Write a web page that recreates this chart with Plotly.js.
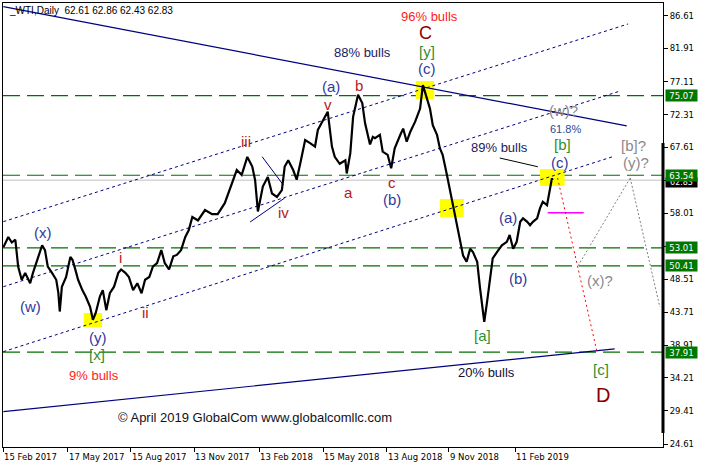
<!DOCTYPE html>
<html><head><meta charset="utf-8">
<script src="https://cdn.plot.ly/plotly-3.0.1.min.js"></script>
<style>html,body{margin:0;padding:0;background:#fff}</style>
</head><body><div id="chart" style="width:703px;height:468px"></div>
<script>
// ---- price series ----
const priceDates = ['2017-02-15','2017-02-22','2017-02-27','2017-03-04','2017-03-08','2017-03-13','2017-03-18','2017-03-25','2017-03-29','2017-04-04','2017-04-11','2017-04-15','2017-04-19','2017-04-25','2017-05-01','2017-05-04','2017-05-06','2017-05-09','2017-05-15','2017-05-21','2017-05-24','2017-05-28','2017-06-01','2017-06-07','2017-06-12','2017-06-18','2017-06-22','2017-06-26','2017-07-02','2017-07-06','2017-07-11','2017-07-16','2017-07-22','2017-07-28','2017-08-01','2017-08-07','2017-08-12','2017-08-18','2017-08-24','2017-08-30','2017-09-04','2017-09-10','2017-09-15','2017-09-21','2017-09-27','2017-10-02','2017-10-08','2017-10-14','2017-10-19','2017-10-25','2017-10-31','2017-11-05','2017-11-10','2017-11-18','2017-11-28','2017-12-08','2017-12-16','2017-12-26','2018-01-02','2018-01-12','2018-01-19','2018-01-27','2018-02-03','2018-02-07','2018-02-11','2018-02-18','2018-02-25','2018-03-03','2018-03-10','2018-03-17','2018-03-21','2018-03-26','2018-04-02','2018-04-07','2018-04-12','2018-04-19','2018-04-26','2018-05-03','2018-05-07','2018-05-14','2018-05-21','2018-05-27','2018-05-31','2018-06-07','2018-06-15','2018-06-17','2018-06-22','2018-06-26','2018-07-03','2018-07-09','2018-07-13','2018-07-20','2018-07-24','2018-07-27','2018-08-03','2018-08-07','2018-08-14','2018-08-19','2018-08-24','2018-09-01','2018-09-05','2018-09-10','2018-09-15','2018-09-22','2018-09-29','2018-10-03','2018-10-09','2018-10-13','2018-10-17','2018-10-23','2018-10-27','2018-10-31','2018-11-06','2018-11-10','2018-11-15','2018-11-20','2018-11-25','2018-11-29','2018-12-04','2018-12-09','2018-12-13','2018-12-19','2018-12-23','2018-12-27','2018-12-29','2019-01-02','2019-01-06','2019-01-10','2019-01-16','2019-01-23','2019-01-30','2019-02-03','2019-02-08','2019-02-13','2019-02-18','2019-02-22','2019-02-28','2019-03-04','2019-03-08','2019-03-14','2019-03-18','2019-03-22','2019-03-28','2019-04-01','2019-04-04','2019-04-05'];
const priceValues = [53.1,54.6,53.8,54.2,50.3,48.4,49.4,47.9,49.4,51.3,53.4,52.7,50.3,49.4,48.4,46.5,43.8,47.4,48.8,51.7,51.3,49.9,48.4,46.9,45.95,44.5,42.6,43.6,46.0,46.9,44.0,46.45,47.4,49.4,49.9,49.4,48.8,46.9,47.9,46.45,48.4,48.8,50.3,50.8,52.7,50.8,49.9,51.8,52.0,52.7,54.6,55.6,57.5,57.0,58.5,57.9,57.9,59.5,61.4,64.3,63.6,66.2,64.8,62.85,58.3,61.9,63.3,60.9,60.4,61.4,64.8,65.7,64.3,62.9,65.2,68.65,68.2,67.7,70.1,71.5,72.75,67.7,66.2,65.2,65.7,63.8,66.7,72.0,75.2,74.0,71.06,68.0,69.1,68.9,69.4,66.96,66.5,64.55,67.45,69.4,70.3,68.4,69.8,71.3,73.2,76.6,74.7,73.2,70.8,69.4,67.45,66.5,63.6,61.65,59.2,56.8,53.9,51.9,51.0,52.9,52.4,51.0,47.2,43.3,42.3,45.2,48.1,51.5,52.4,53.4,53.9,54.9,52.9,53.9,56.8,57.3,56.8,56.3,56.8,57.3,58.75,59.7,59.2,61.65,63.1,62.83];

// ---- levels, ticks ----
const levelValues = [75.07, 63.54, 53.01, 50.41, 37.91];
const lastPrice = 62.83;
const headerText = '_WTI,Daily  62.61 62.86 62.43 62.83';
const yTickVals = [86.61,81.91,77.11,72.31,67.61,62.81,58.01,53.21,48.51,43.71,38.91,34.21,29.41,24.61];
const yTickHidden = [62.81, 53.21];
const xTickDates = ['2017-02-15','2017-05-17','2017-08-15','2017-11-13','2018-02-13','2018-05-15','2018-08-13','2018-11-09','2019-02-11'];
const xTickText = ['15 Feb 2017','17 May 2017','15 Aug 2017','13 Nov 2017','13 Feb 2018','15 May 2018','13 Aug 2018','9 Nov 2018','11 Feb 2019'];

// ---- analysis lines (date, price endpoints) ----
const lineStart = [['2017-02-15',87.97],['2017-02-15',29.30],['2017-02-15',56.82],['2017-02-15',47.40],['2017-02-15',37.99],['2018-02-17',66.23],['2018-01-31',56.77],['2019-01-20',66.04],['2019-03-29',58.12],['2019-04-12',63.14],['2019-05-11',50.41],['2019-07-24',63.14]];
const lineEnd   = [['2019-07-19',70.68],['2019-07-02',38.38],['2019-07-21',85.45],['2019-07-07',75.65],['2019-06-28',66.19],['2018-03-19',62.13],['2018-03-21',60.25],['2019-03-15',64.77],['2019-05-19',58.12],['2019-06-07',37.91],['2019-07-24',63.14],['2019-09-04',44.46]];
const lineKind  = ['navy','navy','navydot','navydot','navydot','navythin','navythin','black','magenta','reddot','graydot','graydot'];

// ---- highlight boxes ----
const boxStart = [['2017-06-09',43.59],['2018-09-23',77.2],['2018-10-27',60.1],['2019-03-18',64.45]];
const boxEnd   = [['2017-07-05',41.57],['2018-10-19',74.59],['2018-11-30',57.5],['2019-04-22',61.99]];

// ---- text labels ----
const labelText = ['96% bulls','C','[y]','(c)','88% bulls','(a)','b','v','iii','iv','a','c','(b)','(x)','(w)','i','ii','(y)','[x]','9% bulls','20% bulls','© April 2019 GlobalCom www.globalcomllc.com','[a]','(b)','(a)','89% bulls','(c)','[b]','61.8%','(w)?','[b]?','(y)?','(x)?','[c]','D'];
const labelDate = ['2018-10-13','2018-10-06','2018-10-09','2018-10-09','2018-07-09','2018-05-25','2018-07-05','2018-05-22','2018-01-25','2018-03-19','2018-06-19','2018-08-20','2018-08-20','2017-04-12','2017-03-25','2017-07-31','2017-09-04','2017-06-29','2017-06-28','2017-06-24','2019-01-01','2018-02-07','2018-12-26','2019-02-15','2019-02-01','2019-01-19','2019-04-15','2019-04-19','2019-04-23','2019-04-20','2019-07-29','2019-08-01','2019-06-11','2019-06-13','2019-06-15'];
const labelPrice = [86.47,84.1,81.45,79.0,81.25,76.33,76.5,73.8,68.5,58.2,61.1,62.5,59.96,55.3,44.5,51.7,43.59,40.1,37.51,34.5,34.9,28.5,40.26,48.6,57.4,67.49,65.46,67.93,70.24,72.85,67.78,65.32,48.23,35.34,31.72];
const labelKind = ['pct','bigC','green','wave','note','wave','roman','roman','roman','roman','roman','roman','wave','wave','wave','roman','roman','wave','green','pct','note2','copy','green','wave','wave','note','wave','green','fib','alt','alt','alt','alt','green','big'];

// ---- styles ----
const lineStyles = {
  navy: {color:'#000080', width:1.2, dash:'solid'},
  navydot: {color:'#000080', width:1, dash:'3px,3px'},
  navythin: {color:'#000080', width:1, dash:'solid'},
  black: {color:'#000000', width:1, dash:'solid'},
  magenta: {color:'#ff00ff', width:1.5, dash:'solid'},
  reddot: {color:'#ff0000', width:1, dash:'2px,3px'},
  graydot: {color:'#808080', width:1, dash:'2px,2px'}
};
const labelStyles = {
  pct: {color:'#ff1a1a', size:13},
  big: {color:'#8b0000', size:20},
  bigC: {color:'#8b0000', size:18},
  green: {color:'#2f8f2f', size:15},
  wave: {color:'#2f3a9e', size:15},
  roman: {color:'#b0201c', size:15},
  note: {color:'#1a1a60', size:13},
  note2: {color:'#101030', size:13},
  copy: {color:'#101020', size:13},
  fib: {color:'#2a4a9a', size:11},
  alt: {color:'#8a8a8a', size:15}
};
const FONT = 'Liberation Sans, Arial, sans-serif';
const AXFONT = 'DejaVu Sans, Tahoma, sans-serif';

const shapes = [];
for (let i = 0; i < boxStart.length; i++) {
  shapes.push({type:'rect', xref:'x', yref:'y', layer:'below',
    x0:boxStart[i][0], y0:boxStart[i][1], x1:boxEnd[i][0], y1:boxEnd[i][1],
    fillcolor:'#ffff00', line:{width:0}});
}
shapes.push({type:'line', xref:'paper', yref:'y', layer:'below', x0:0, x1:1, y0:lastPrice, y1:lastPrice,
  line:{color:'#c0c0c0', width:1}});
levelValues.forEach(v => shapes.push({type:'line', xref:'paper', yref:'y', layer:'below', x0:0, x1:1, y0:v, y1:v,
  line:{color:'#007000', width:1.2, dash:'17px,7px'}}));
for (let i = 0; i < lineStart.length; i++) {
  shapes.push({type:'line', xref:'x', yref:'y', layer:'below',
    x0:lineStart[i][0], y0:lineStart[i][1], x1:lineEnd[i][0], y1:lineEnd[i][1],
    line:lineStyles[lineKind[i]]});
}
shapes.push({type:'line', xref:'paper', yref:'y', x0:1, x1:1, y0:68.2, y1:26.2, line:{color:'#000', width:3}});

const annotations = [];
for (let i = 0; i < labelText.length; i++) {
  const st = labelStyles[labelKind[i]];
  annotations.push({x:labelDate[i], y:labelPrice[i], xref:'x', yref:'y', text:labelText[i], showarrow:false,
    xanchor:'center', yanchor:'middle', borderpad:0, font:{family:FONT, size:st.size, color:st.color}});
}
for (let i = 0; i < xTickDates.length; i++) {
  annotations.push({x:xTickDates[i], y:-0.0225, xref:'x', yref:'paper', text:xTickText[i], showarrow:false,
    xanchor:'left', yanchor:'middle', borderpad:0, font:{family:AXFONT, size:8.5, color:'#000'}});
}
annotations.push({x:0.006, y:0.982, xref:'paper', yref:'paper', text:headerText, showarrow:false,
  xanchor:'left', yanchor:'middle', font:{family:FONT, size:10, color:'#000'}});
annotations.push({x:1.003, y:lastPrice - 0.35, xref:'paper', yref:'y', text:lastPrice.toFixed(2), showarrow:false,
  xanchor:'left', yanchor:'middle', bgcolor:'#000', width:31, height:9, borderpad:0,
  font:{family:AXFONT, size:8, color:'#fff'}});
levelValues.forEach(v => annotations.push({x:1.003, y:v, xref:'paper', yref:'y', text:v.toFixed(2), showarrow:false,
  xanchor:'left', yanchor:'middle', bgcolor:'#007800', width:31, height:11, borderpad:0,
  font:{family:AXFONT, size:8.5, color:'#fff'}}));

const trace = {type:'scatter', mode:'lines', x:priceDates, y:priceValues,
  line:{color:'#000', width:2.2}, hoverinfo:'skip', showlegend:false};

const layout = {
  width:703, height:468,
  margin:{l:3, r:40, t:3, b:21, pad:0},
  paper_bgcolor:'#fff', plot_bgcolor:'#fff',
  showlegend:false,
  xaxis:{type:'date', range:['2017-02-14 12:00','2019-09-08 12:00'], showgrid:false, zeroline:false,
    showline:true, mirror:true, linecolor:'#000', linewidth:1,
    tickmode:'array', tickvals:xTickDates, showticklabels:false, ticks:'outside', ticklen:4, tickcolor:'#000'},
  yaxis:{side:'right', range:[24.18, 88.49], showgrid:false, zeroline:false,
    showline:true, mirror:true, linecolor:'#000', linewidth:1,
    tickmode:'array', tickvals:yTickVals,
    ticktext:yTickVals.map(v => yTickHidden.includes(v) ? '' : v.toFixed(2)),
    ticks:'outside', ticklen:4, tickcolor:'#000',
    tickfont:{family:AXFONT, size:8.5, color:'#000'}},
  shapes:shapes, annotations:annotations
};
Plotly.newPlot('chart', [trace], layout, {displayModeBar:false, staticPlot:true});
</script></body></html>
